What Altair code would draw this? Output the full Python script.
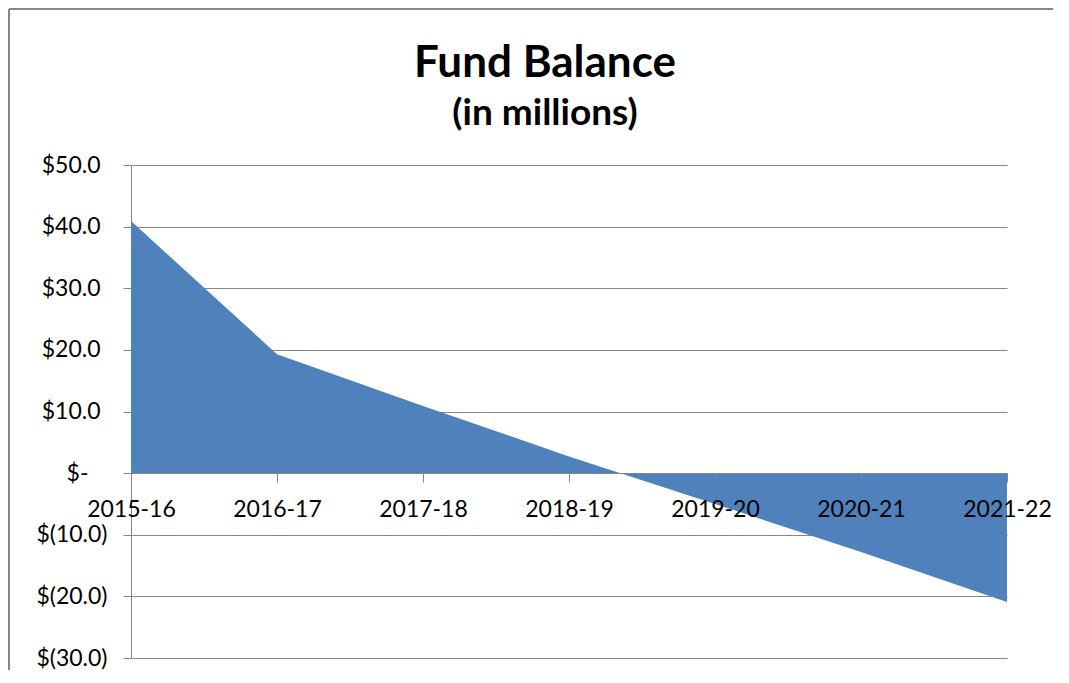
import altair as alt
import pandas as pd

years = ["2015-16", "2016-17", "2017-18", "2018-19", "2019-20", "2020-21", "2021-22"]
balance = [40.9, 19.3, 10.9, 2.7, -5.0, -12.8, -20.9]
y_ticks = [-30, -20, -10, 0, 10, 20, 30, 40, 50]
title_text = "Fund Balance"
subtitle_text = "(in millions)"

df = pd.DataFrame({"year": years, "balance": balance})

GRAY = "#868686"
FONT = "Lato"

label_expr = (
    "datum.value > 0 ? '$' + format(datum.value, '.1f') : "
    "(datum.value < 0 ? '$(' + format(-datum.value, '.1f') + ')' : '$-')"
)

area = alt.Chart(df).mark_area(color="#4F81BD", opacity=1).encode(
    x=alt.X(
        "year:O",
        sort=years,
        scale=alt.Scale(padding=0),
        axis=alt.Axis(
            title=None,
            labelAngle=0,
            labelFont=FONT,
            labelFontSize=23,
            labelColor="#000000",
            labelPadding=16,
            labelFlush=False,
            labelOverlap=False,
            domainColor=GRAY,
            domainWidth=1,
            tickColor=GRAY,
            tickSize=9,
            offset=-185,
            zindex=1,
        ),
    ),
    y=alt.Y(
        "balance:Q",
        stack=None,
        scale=alt.Scale(domain=[-30, 50], nice=False, zero=False),
        axis=alt.Axis(
            title=None,
            values=y_ticks,
            labelExpr=label_expr,
            labelFont=FONT,
            labelFontSize=23,
            labelColor="#000000",
            labelPadding={
                "condition": [
                    {"test": "datum.value > 0", "value": 23},
                    {"test": "datum.value == 0", "value": 35},
                ],
                "value": 16,
            },
            domainColor=GRAY,
            tickColor=GRAY,
            tickSize=8,
            gridColor=GRAY,
            gridWidth=1,
            grid=True,
        ),
    ),
)

one = pd.DataFrame({"k": [0]})
border_top = alt.Chart(one).mark_rule(color=GRAY, strokeWidth=2).encode(
    x=alt.value(-122), x2=alt.value(922), y=alt.value(-156)
)
border_left = alt.Chart(one).mark_rule(color=GRAY, strokeWidth=2).encode(
    x=alt.value(-122), y=alt.value(-156), y2=alt.value(520)
)
title_mark = alt.Chart(one).mark_text(
    font=FONT, fontSize=44, fontWeight="bold", color="#000000",
    align="center", baseline="alphabetic", text=title_text,
).encode(x=alt.value(414), y=alt.value(-88))
subtitle_mark = alt.Chart(one).mark_text(
    font=FONT, fontSize=37, fontWeight="bold", color="#000000",
    align="center", baseline="alphabetic", text=subtitle_text,
).encode(x=alt.value(414), y=alt.value(-40))

chart = (
    alt.layer(border_top, border_left, area, title_mark, subtitle_mark)
    .properties(
        width=876,
        height=493,
        autosize="none",
        padding={"left": 123, "top": 157, "right": 54, "bottom": 12},
    )
    .configure_view(stroke=None)
)

chart.save("out.html", embed_options={"renderer": "svg", "actions": False})
